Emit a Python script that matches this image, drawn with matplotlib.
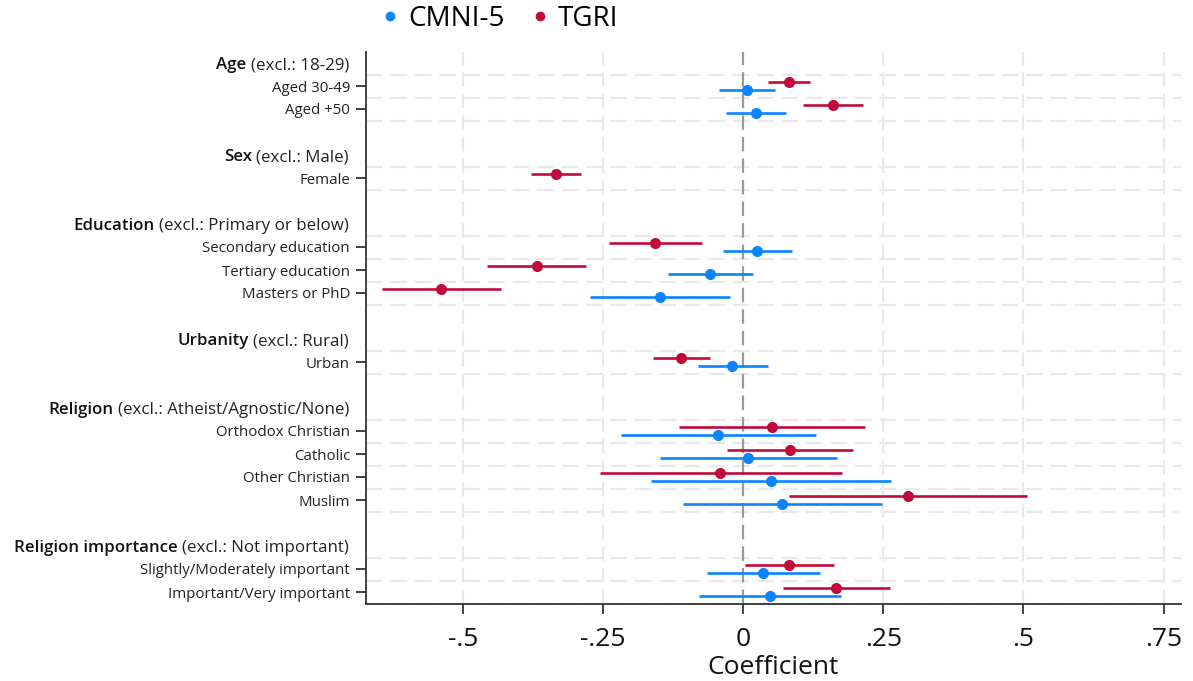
import matplotlib
matplotlib.use("Agg")
import matplotlib.pyplot as plt
from matplotlib.lines import Line2D

plt.rcParams['font.family'] = ['Open Sans', 'DejaVu Sans']

# Variable groups: (group name, reference category, items)
group_names = ["Age", "Sex", "Education", "Urbanity", "Religion", "Religion importance"]
group_refs = ["18-29", "Male", "Primary or below", "Rural", "Atheist/Agnostic/None", "Not important"]
group_items = [
    ["Aged 30-49", "Aged +50"],
    ["Female"],
    ["Secondary education", "Tertiary education", "Masters or PhD"],
    ["Urban"],
    ["Orthodox Christian", "Catholic", "Other Christian", "Muslim"],
    ["Slightly/Moderately important", "Important/Very important"],
]

# TGRI estimates with 95% CI
tgri_coef = [0.082, 0.160, -0.333, -0.157, -0.368, -0.538, -0.110, 0.052, 0.083, -0.041, 0.294, 0.082, 0.166]
tgri_lo = [0.045, 0.106, -0.378, -0.239, -0.456, -0.644, -0.160, -0.114, -0.029, -0.256, 0.081, 0.003, 0.071]
tgri_hi = [0.119, 0.213, -0.289, -0.074, -0.280, -0.431, -0.059, 0.218, 0.196, 0.176, 0.507, 0.162, 0.262]

# CMNI-5 estimates with 95% CI
cmni_coef = [0.007, 0.023, None, 0.025, -0.059, -0.149, -0.019, -0.045, 0.009, 0.050, 0.069, 0.036, 0.048]
cmni_lo = [-0.043, -0.030, None, -0.036, -0.134, -0.273, -0.081, -0.218, -0.149, -0.164, -0.108, -0.065, -0.078]
cmni_hi = [0.057, 0.077, None, 0.087, 0.018, -0.024, 0.044, 0.130, 0.167, 0.264, 0.247, 0.137, 0.175]

x_ticks = [-0.5, -0.25, 0, 0.25, 0.5, 0.75]
x_ticklabels = ["-.5", "-.25", "0", ".25", ".5", ".75"]

BLUE = "#0a84ff"
RED = "#c20a3a"
GRID = "#e9e9e9"

# Row layout: header row, item rows, blank spacer row
header_rows, item_rows, item_labels = [], [], []
row = 0
for gi, items in enumerate(group_items):
    header_rows.append(row)
    row += 1
    for it in items:
        item_rows.append(row)
        item_labels.append(it)
        row += 1
    row += 1
n_rows = row - 1

fig = plt.figure(figsize=(11.93, 6.81), dpi=100)
ax = fig.add_axes([366 / 1193, 1 - 603.5 / 681, (1181 - 366) / 1193, (603.5 - 51.5) / 681])

xmin, xmax = -0.6726, 0.781
ax.set_xlim(xmin, xmax)
ax.set_ylim(n_rows - 0.5, -0.5)

# Horizontal dashed grid bounding each coefficient row
hlines = sorted(set([r - 0.5 for r in item_rows] + [r + 0.5 for r in item_rows]))
for h in hlines:
    ax.axhline(h, color=GRID, lw=1.6, ls=(0, (7.5, 3.5)), zorder=0)
# Vertical dashed grid
for xv in x_ticks:
    if xv != 0:
        ax.axvline(xv, color=GRID, lw=1.6, ls=(0, (6.5, 3.2)), zorder=0)
ax.axvline(0, color="#9a9a9a", lw=1.6, ls=(0, (6.5, 3.2)), zorder=1)

off = 0.17
for i, r in enumerate(item_rows):
    if cmni_coef[i] is not None:
        ax.plot([cmni_lo[i], cmni_hi[i]], [r + off, r + off], color=BLUE, lw=1.9,
                solid_capstyle='butt', zorder=3)
        ax.plot(cmni_coef[i], r + off, 'o', color=BLUE, ms=8, mew=0, zorder=4)
    ax.plot([tgri_lo[i], tgri_hi[i]], [r - off, r - off], color=RED, lw=1.9,
            solid_capstyle='butt', zorder=3)
    ax.plot(tgri_coef[i], r - off, 'o', color=RED, ms=8, mew=0, zorder=4)

ax.set_yticks(item_rows)
ax.set_yticklabels(item_labels, fontsize=10.8, color="#222222")
ax.set_xticks(x_ticks)
ax.set_xticklabels(x_ticklabels, fontsize=19, color="#111111")
ax.set_xlabel("Coefficient", fontsize=19, color="#111111", labelpad=2)
ax.tick_params(axis='y', length=7, width=1.3, pad=4.5, color="#333333")
ax.tick_params(axis='x', length=7, width=1.3, pad=10, color="#333333")

for s in ["top", "right"]:
    ax.spines[s].set_visible(False)
for s in ["left", "bottom"]:
    ax.spines[s].set_linewidth(1.3)
    ax.spines[s].set_color("#333333")

# Group headers: bold name followed by reference category
renderer = fig.canvas.get_renderer()
pad_px = 17
for name, ref, r in zip(group_names, group_refs, header_rows):
    ax_x0 = ax.transAxes.transform((0, 0))[0]
    y_disp = ax.transData.transform((0, r))[1]
    t_rest = fig.text((ax_x0 - pad_px) / fig.bbox.width, y_disp / fig.bbox.height,
                      f"(excl.: {ref})", ha='right', va='center_baseline',
                      fontsize=12.2, color="#222222")
    bb = t_rest.get_window_extent(renderer)
    space = 0.26 * 12.2 * 100 / 72
    fig.text((bb.x0 - space) / fig.bbox.width, y_disp / fig.bbox.height, name,
             ha='right', va='center_baseline', fontsize=12.2, fontweight='semibold',
             color="#111111")

handles = [
    Line2D([], [], marker='o', ls='', color=BLUE, ms=7, mew=0, label="CMNI-5"),
    Line2D([], [], marker='o', ls='', color=RED, ms=7, mew=0, label="TGRI"),
]
fig.legend(handles=handles, loc='center', bbox_to_anchor=(0.4164, 0.972), ncol=2,
           frameon=False, fontsize=20, handletextpad=0.1, columnspacing=0.73,
           handlelength=1.1)

fig.savefig("out.png", dpi=100)
